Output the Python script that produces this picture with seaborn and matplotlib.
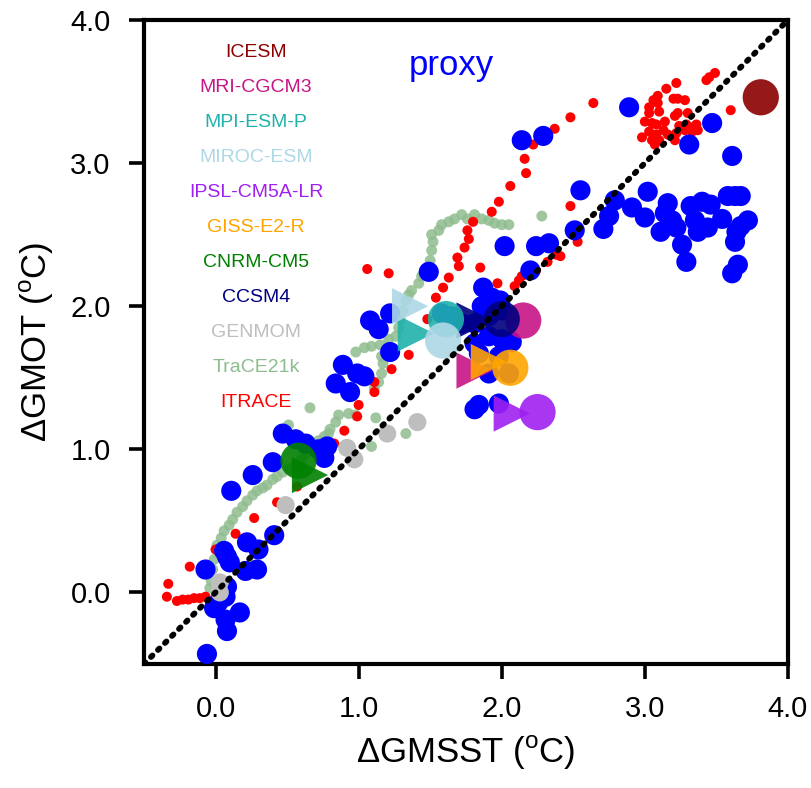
import matplotlib
matplotlib.use("Agg")
import matplotlib.pyplot as plt
import seaborn as sns
import pandas as pd
import numpy as np

# proxy reconstructions
proxy_x = [-0.06, 0.08, 0.17, 0.07, -0.01, 0.02, 0.07, 0.08, -0.07, 0.08, 0.06, 0.10,
           0.22, 0.29, 0.21, 0.30, 0.41, 0.11, 0.26, 0.40, 0.47, 0.56, 0.63, 0.72, 0.78,
           0.76, 0.84, 0.89, 0.94, 0.99, 1.04, 1.08, 1.14, 1.22, 1.22, 1.49, 1.58, 1.65,
           1.72, 1.81, 1.81, 1.84, 1.86, 1.87, 1.91, 1.91, 1.93, 1.98, 1.99, 2.00, 2.00,
           2.07, 1.91, 2.05, 1.84, 1.81, 1.98, 2.02, 2.20, 2.24, 2.33, 2.51, 2.55, 2.14,
           2.29, 2.89, 3.47, 3.31, 3.61, 2.71, 2.75, 2.79, 2.91, 3.02, 3.00, 3.11, 3.16,
           3.14, 3.19, 3.22, 3.26, 3.29, 3.32, 3.35, 3.37, 3.40, 3.46, 3.44, 3.54, 3.58,
           3.63, 3.67, 3.72, 3.67, 3.64, 3.63, 3.65, 3.61]
proxy_y = [-0.43, -0.27, -0.14, -0.19, -0.11, -0.07, -0.03, 0.04, 0.16, 0.25, 0.29, 0.21,
           0.35, 0.16, 0.15, 0.30, 0.40, 0.71, 0.82, 0.91, 1.11, 1.07, 1.04, 1.00, 1.02,
           0.94, 1.46, 1.59, 1.40, 1.53, 1.51, 1.90, 1.84, 1.95, 1.68, 2.24, 1.95, 1.93,
           1.88, 1.88, 1.74, 1.67, 2.00, 2.13, 1.93, 1.79, 2.06, 1.65, 2.04, 1.97, 1.77,
           1.75, 1.53, 1.53, 1.31, 1.28, 1.32, 2.42, 2.25, 2.42, 2.44, 2.53, 2.81, 3.16,
           3.19, 3.39, 3.28, 3.13, 3.05, 2.54, 2.63, 2.74, 2.69, 2.80, 2.62, 2.52, 2.72,
           2.65, 2.60, 2.55, 2.43, 2.31, 2.70, 2.60, 2.52, 2.73, 2.71, 2.55, 2.61, 2.77,
           2.77, 2.77, 2.60, 2.56, 2.52, 2.45, 2.29, 2.23]

# iTRACE transient
itrace_x = [-0.33, -0.34, -0.27, -0.23, -0.19, -0.15, -0.11, -0.07, -0.18, 0.00, 0.14,
            0.27, 0.43, 0.57, 0.83, 0.90, 0.99, 1.00, 1.11, 1.11, 1.23, 1.35, 1.48, 1.54,
            1.59, 1.63, 1.70, 1.69, 1.74, 1.77, 1.76, 1.80, 1.93, 1.98, 2.06, 2.17, 2.16,
            2.22, 2.37, 2.48, 2.64, 1.06, 1.21, 1.85, 1.97, 2.09, 2.12, 2.14, 2.24, 2.32,
            2.38, 2.41, 2.48, 2.53, 3.22, 3.15, 3.09, 3.06, 3.03, 3.09, 3.03, 3.10, 3.20,
            3.23, 3.28, 3.00, 3.05, 3.08, 3.14, 3.13, 3.03, 3.08, 3.10, 3.07, 3.16, 3.21,
            3.23, 3.30, 3.24, 3.29, 3.32, 3.36, 3.37, 3.33, 3.28, 3.22, 2.98, 3.43, 3.45,
            3.49, 3.60, 3.05, 3.21]
itrace_y = [0.06, -0.03, -0.06, -0.05, -0.05, -0.04, -0.04, -0.03, 0.18, 0.30, 0.41,
            0.52, 0.63, 0.74, 1.04, 1.13, 1.23, 1.31, 1.40, 1.47, 1.56, 1.66, 1.91, 2.06,
            2.13, 2.20, 2.28, 2.34, 2.41, 2.47, 2.53, 2.59, 2.66, 2.73, 2.84, 2.93, 3.03,
            3.13, 3.24, 3.32, 3.42, 2.26, 2.23, 2.27, 2.16, 2.14, 2.18, 2.21, 2.25, 2.31,
            2.36, 2.35, 2.70, 2.45, 3.56, 3.52, 3.47, 3.44, 3.39, 3.42, 3.35, 3.36, 3.45,
            3.45, 3.44, 3.29, 3.28, 3.27, 3.29, 3.23, 3.22, 3.20, 3.16, 3.13, 3.20, 3.16,
            3.35, 3.35, 3.26, 3.27, 3.25, 3.27, 3.23, 3.22, 3.23, 3.21, 3.18, 3.58, 3.60,
            3.63, 3.37, 3.16, 3.33]

# TraCE-21k transient
trace_x = [-0.04, -0.03, -0.02, -0.01, 0.01, 0.04, 0.06, 0.095, 0.12, 0.15, 0.19, 0.22,
           0.26, 0.29, 0.33, 0.36, 0.40, 0.43, 0.47, 0.51, 0.56, 0.60, 0.63, 0.68, 0.72,
           0.76, 0.80, 0.84, 0.86, 0.93, 0.66, 0.51, 0.79, 1.09, 1.12, 1.33, 0.98, 1.11,
           1.14, 1.16, 1.17, 1.16, 0.98, 1.04, 1.09, 1.15, 1.21, 1.26, 1.28, 1.29, 1.31,
           1.33, 1.35, 1.37, 1.42, 1.44, 1.47, 1.49, 1.50, 1.51, 1.52, 1.51, 1.56, 1.58,
           1.63, 1.67, 1.72, 1.76, 1.81, 1.86, 1.91, 1.95, 2.00, 2.05, 2.28]
trace_y = [0.03, 0.08, 0.16, 0.23, 0.33, 0.38, 0.43, 0.47, 0.51, 0.56, 0.60, 0.64,
           0.68, 0.71, 0.73, 0.75, 0.79, 0.81, 0.84, 0.86, 0.89, 0.93, 0.97, 1.02, 1.06,
           1.09, 1.14, 1.19, 1.24, 1.25, 1.29, 1.17, 1.11, 1.02, 1.22, 1.11, 1.24, 1.43,
           1.47, 1.53, 1.60, 1.65, 1.68, 1.71, 1.72, 1.73, 1.77, 1.79, 1.85, 1.91, 1.97,
           2.04, 2.08, 2.11, 2.16, 2.21, 2.25, 2.28, 2.32, 2.39, 2.45, 2.50, 2.53, 2.57,
           2.59, 2.61, 2.64, 2.61, 2.64, 2.61, 2.60, 2.58, 2.57, 2.57, 2.63]

# GENMOM
genmom_x = [0.03, 0.03, 0.49, 0.92, 0.97, 1.20, 1.41]
genmom_y = [0.00, 0.07, 0.61, 1.01, 0.93, 1.11, 1.19]

# PMIP models: circle and triangle positions
model_names = ["ICESM", "MRI-CGCM3", "MPI-ESM-P", "MIROC-ESM", "IPSL-CM5A-LR",
               "GISS-E2-R", "CNRM-CM5", "CCSM4"]
model_colors = ["#8b0000", "#c71585", "#20b2aa", "#add8e6", "#a020f0",
                "#ffa500", "#008000", "#000080"]
circle_x = [3.81, 2.15, 1.61, 1.59, 2.25, 2.06, 0.58, 2.00]
circle_y = [3.46, 1.90, 1.91, 1.76, 1.26, 1.57, 0.92, 1.91]
tri_x = [np.nan, 1.81, 1.40, 1.36, 2.07, 1.91, 0.66, 1.81]
tri_y = [np.nan, 1.55, 1.81, 2.00, 1.25, 1.61, 0.82, 1.90]

label_names = model_names + ["GENMOM", "TraCE21k", "ITRACE"]
label_colors = model_colors + ["#bebebe", "#8fbc8f", "#ff0000"]

sns.set_style("ticks")
plt.rcParams["font.family"] = ["Liberation Sans", "DejaVu Sans"]
plt.rcParams["mathtext.fontset"] = "custom"
plt.rcParams["mathtext.rm"] = "Liberation Sans"
plt.rcParams["text.color"] = "black"
plt.rcParams["axes.labelcolor"] = "black"

fig = plt.figure(figsize=(8.12, 7.88), dpi=100)
ax = fig.add_axes([0.1773, 0.1574, 0.7931, 0.8172])

sns.scatterplot(x=trace_x, y=trace_y, color="#8fbc8f", s=62, alpha=0.85,
                edgecolor="none", ax=ax, zorder=2)
sns.scatterplot(x=itrace_x, y=itrace_y, color="red", s=52,
                edgecolor="none", ax=ax, zorder=3)
sns.scatterplot(x=proxy_x, y=proxy_y, color="blue", s=210,
                edgecolor="none", ax=ax, zorder=4)
sns.scatterplot(x=genmom_x, y=genmom_y, color="#bebebe", s=170,
                edgecolor="none", ax=ax, zorder=5)

models = pd.DataFrame({"model": model_names, "cx": circle_x, "cy": circle_y,
                       "tx": tri_x, "ty": tri_y})
pal = dict(zip(model_names, model_colors))
sns.scatterplot(data=models, x="tx", y="ty", hue="model", palette=pal, marker=">",
                s=680, edgecolor="none", alpha=0.9, legend=False, ax=ax, zorder=6)
sns.scatterplot(data=models, x="cx", y="cy", hue="model", palette=pal, marker="o",
                s=680, edgecolor="none", alpha=0.9, legend=False, ax=ax, zorder=7)

# 1:1 line
ax.plot([-0.5, 4.0], [-0.5, 4.0], color="black", lw=4.2,
        ls=(0, (0.35, 1.35)), dash_capstyle="round", zorder=8)

for i, (name, col) in enumerate(zip(label_names, label_colors)):
    ax.text(0.174, 0.950 - i * 0.0544, name, color=col, fontsize=14,
            ha="center", va="center", transform=ax.transAxes)
ax.text(0.477, 0.930, "proxy", color="blue", fontsize=25,
        ha="center", va="center", transform=ax.transAxes)

ax.set_xlim(-0.5, 4.0)
ax.set_ylim(-0.5, 4.0)
ticks = [0, 1, 2, 3, 4]
ax.set_xticks(ticks)
ax.set_yticks(ticks)
ax.set_xticklabels([f"{t:.1f}" for t in ticks])
ax.set_yticklabels([f"{t:.1f}" for t in ticks])
ax.tick_params(axis="both", direction="out", length=11, width=2.6,
               labelsize=21, color="black", labelcolor="black")
ax.tick_params(axis="x", pad=11)
ax.tick_params(axis="y", pad=13)
for sp in ax.spines.values():
    sp.set_linewidth(3)
    sp.set_color("black")
    sp.set_visible(True)

ax.set_xlabel(r"ΔGMSST ($^{\rm o}$C)", fontsize=25, labelpad=8, color="black")
ax.set_ylabel(r"ΔGMOT ($^{\rm o}$C)", fontsize=25, labelpad=10, color="black")

fig.savefig("out.png", dpi=100)
